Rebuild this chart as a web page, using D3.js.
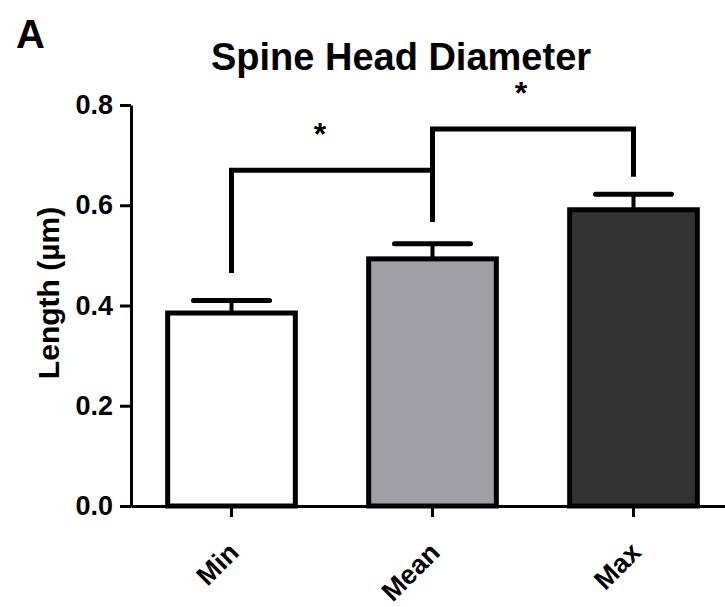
<!DOCTYPE html>
<html>
<head>
<meta charset="utf-8">
<script src="https://cdn.jsdelivr.net/npm/d3@7/dist/d3.min.js"></script>
<style>
  body { margin: 0; background: #fff; }
  svg { display: block; }
  text { font-family: "Liberation Sans", Arial, sans-serif; }
</style>
</head>
<body>
<svg id="chart" width="725" height="607"></svg>
<script>
// ---- data ----
const categories = ["Min", "Mean", "Max"];
const means = [0.385, 0.493, 0.591];
const errors = [0.025, 0.030, 0.031];
const fills = ["#ffffff", "#a1a1a5", "#333333"];
const yTicks = [0.0, 0.2, 0.4, 0.6, 0.8];
// significance brackets: from, to, bracket height, leg bottoms, label
const brackets = [
  { from: "Min", to: "Mean", level: 0.670, leftEnd: 0.465, rightEnd: 0.567, label: "*", labelY: 0.748 },
  { from: "Mean", to: "Max", level: 0.752, leftEnd: 0.567, rightEnd: 0.657, label: "*", labelY: 0.830 }
];
const title = "Spine Head Diameter";
const panelLabel = "A";
const yLabel = "Length (µm)";

// ---- layout ----
const svg = d3.select("#chart");
const plotLeft = 131, plotBottom = 506, plotTop = 105, plotRight = 734;

const x = d3.scaleBand().domain(categories).range([plotLeft, plotRight])
  .paddingInner(0.34).paddingOuter(0.17);
const y = d3.scaleLinear().domain([0, 0.8]).range([plotBottom, plotTop]);
const cx = c => x(c) + x.bandwidth() / 2;

// title & panel label
svg.append("text").attr("x", 16).attr("y", 48)
  .attr("font-size", 40).attr("font-weight", "bold").text(panelLabel);
svg.append("text").attr("x", 401).attr("y", 70).attr("text-anchor", "middle")
  .attr("font-size", 38).attr("font-weight", "bold").text(title);

// y label
svg.append("text")
  .attr("transform", `translate(59, 293) rotate(-90)`)
  .attr("text-anchor", "middle").attr("font-size", 30).attr("font-weight", "bold")
  .text(yLabel);

// bars
const bw = x.bandwidth();
svg.append("g").selectAll("rect").data(categories).join("rect")
  .attr("x", c => x(c) + 2.5)
  .attr("width", bw - 5)
  .attr("y", (c, i) => y(means[i]))
  .attr("height", (c, i) => y(0) - y(means[i]))
  .attr("fill", (c, i) => fills[i])
  .attr("stroke", "#000").attr("stroke-width", 5);

// error bars
const eg = svg.append("g").attr("stroke", "#000");
categories.forEach((c, i) => {
  eg.append("line").attr("x1", cx(c)).attr("x2", cx(c))
    .attr("y1", y(means[i])).attr("y2", y(means[i] + errors[i])).attr("stroke-width", 4);
  eg.append("line").attr("x1", cx(c) - 38).attr("x2", cx(c) + 38)
    .attr("y1", y(means[i] + errors[i])).attr("y2", y(means[i] + errors[i]))
    .attr("stroke-width", 5).attr("stroke-linecap", "round");
});

// axes
const yAxis = d3.axisLeft(y).tickValues(yTicks).tickFormat(d3.format(".1f"))
  .tickSizeInner(11).tickSizeOuter(0).tickPadding(7);
const gy = svg.append("g").attr("transform", `translate(${plotLeft},0)`).call(yAxis);
gy.selectAll("path, line").attr("stroke", "#000").attr("stroke-width", 3);
gy.selectAll("text").attr("font-size", 27).attr("font-weight", "bold")
  .attr("font-family", "Liberation Sans, Arial, sans-serif").attr("fill", "#000");

const xAxis = d3.axisBottom(x).tickSizeInner(11).tickSizeOuter(0);
const gx = svg.append("g").attr("transform", `translate(0,${plotBottom})`).call(xAxis);
gx.selectAll("path, line").attr("stroke", "#000").attr("stroke-width", 3);
gx.selectAll("text").attr("font-size", 27).attr("font-weight", "bold")
  .attr("font-family", "Liberation Sans, Arial, sans-serif").attr("fill", "#000")
  .attr("text-anchor", "end").attr("x", 0).attr("y", 0).attr("dy", 0)
  .attr("transform", "translate(9,48) rotate(-45)");

// significance brackets
const bg = svg.append("g");
brackets.forEach(b => {
  const x1 = cx(b.from), x2 = cx(b.to);
  bg.append("path")
    .attr("d", `M${x1},${y(b.leftEnd)}V${y(b.level)}H${x2}V${y(b.rightEnd)}`)
    .attr("fill", "none").attr("stroke", "#000").attr("stroke-width", 5)
    .attr("stroke-linejoin", "miter");
  bg.append("text").attr("x", (x1 + x2) / 2 - 12).attr("y", y(b.labelY) + 14)
    .attr("text-anchor", "middle").attr("font-size", 32).attr("font-weight", "bold")
    .text(b.label);
});
</script>
</body>
</html>
